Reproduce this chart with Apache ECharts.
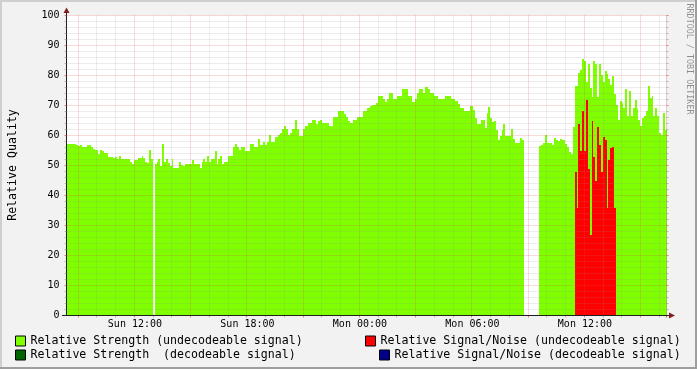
<!DOCTYPE html>
<html><head><meta charset="utf-8">
<script src="https://cdn.jsdelivr.net/npm/echarts@6/dist/echarts.min.js"></script>
<style>html,body{margin:0;padding:0;background:#f2f2f2}#c{width:697px;height:369px}</style>
</head><body><div id="c"></div>
<script>
// ---- data ----
const dayNames = ['Sun', 'Mon'];
const startMinute = 8 * 60 + 24;   // first slot: Sun 08:24
const slotMinutes = 6;
const tickLabels = ['Sun 12:00', 'Sun 18:00', 'Mon 00:00', 'Mon 06:00', 'Mon 12:00'];
const yTitle = 'Relative Quality';
const watermark = 'RRDTOOL / TOBI OETIKER';
const seriesNames = [
  'Relative Strength (undecodeable signal)',
  'Relative Strength  (decodeable signal)',
  'Relative Signal/Noise (undecodeable signal)',
  'Relative Signal/Noise (decodeable signal)'
];
const strengthUndecodeable = [
  57.3,57.3,57.3,57.3,57.3,57,56.5,57,56.3,56.3,
  56.3,57,57,56.3,55.5,55.3,55.3,54,55.3,55,
  54.2,54.2,53,52.8,52.8,52.4,53,52.2,53.3,52.2,
  52.2,52.2,52.2,52.2,51.3,50.4,52,52,52.4,52.4,
  53.3,52.4,51.3,51,55.3,52.2,null,50.4,51.3,52.2,
  49.8,57.3,51.3,52.2,51,49.8,52.2,49.3,49.3,49.3,
  51.3,50.2,50,50.4,50.4,50.4,50.4,52,50.4,50.4,
  50.4,49.3,51.3,52.2,51.3,53.3,51.3,52.2,52.2,55,
  50.4,52.2,53.3,50.4,51.3,51.3,53.3,53.3,53.3,56.2,
  57.3,56.2,55.3,56,56,55,55,55,57.3,57.3,
  56.2,56.2,59,57,57,58,57,58,60.2,58,
  58,59.4,59.4,60.3,61,62.2,63.3,62.2,60.2,61,
  62.2,62.2,65.3,62.2,60,59.7,62.2,63.3,63.3,64.2,
  64.2,65.3,65.3,64,65,65.3,64.2,64.2,64.2,64.2,
  63.3,63.3,66.2,66.2,66.2,68.3,68.3,68,67.3,66.2,
  65,64.2,64.2,65.3,65.3,66.2,66.2,66.2,68.3,68.3,
  69.3,69.3,70,70.2,70.2,71,73.3,73.3,73.3,72.2,
  71.3,72.2,74.2,74.2,72.2,72.2,73.3,73.3,73.3,75.4,
  75.4,75.4,73.3,73.3,71.3,71.3,72.2,74.2,75.4,75.4,
  74.2,76.2,76.2,75.4,74.2,74.2,73.3,73.3,72.2,72.2,
  72.2,72.2,73.3,73.3,73.3,72.2,72.2,71.4,71.4,70.5,
  69.2,69.2,68.3,68.3,68.3,70,69.8,68.5,66,63.7,
  64,65.3,65.3,62.6,67.6,69.5,66,64.4,64.8,62,
  58.6,59.7,62,64,59.7,60,60,62.2,58.9,57.5,
  57.5,57.5,59.2,58.6,null,null,null,null,null,null,
  null,null,56.4,57,57.5,60.3,57.5,57.5,57.5,57,
  59.2,58.6,58.1,58.8,58.6,58.5,57.3,56,54.5,54,
  63,76.5,76.5,80.9,82,85.5,85,78,83.8,76,
  73,85,84,73,84,80.3,78,81.5,80.5,79,
  77,79.8,74,70.3,65.3,71.4,71,69.2,75.4,66.4,
  74.8,66.5,69.2,72,68.7,65.3,63.1,65.8,66.4,68.1,
  76.5,72.5,73.1,66.4,69.2,66.4,61,60.3,67.6,62
];
const strengthDecodeable = [];
const snrUndecodeableStart = 271;   // slot index of first value below
const snrUndecodeable = [48,36,64,55,68,55,72,49,27,65,53,45,63,57,48,59.5,58.4,36,51.9,55.8,56,36];
const snrDecodeable = [];
const seriesColors = ['#7FFF00', '#006400', '#FF0000', '#000088'];

// ---- build ----
const pad = n => (n < 10 ? '0' : '') + n;
const categories = strengthUndecodeable.map((_, i) => {
  const m = startMinute + i * slotMinutes;
  return dayNames[Math.floor(m / 1440)] + ' ' + pad(Math.floor((m % 1440) / 60)) + ':' + pad(m % 60);
});
const hourOf = v => parseInt(v.slice(4, 6), 10);
const onHour = v => v.slice(7) === '00';
const isMajor = (i, v) => onHour(v) && hourOf(v) % 3 === 0;
const isMinor = (i, v) => onHour(v) && hourOf(v) % 3 !== 0;
const isLabel = (i, v) => tickLabels.indexOf(v) >= 0;

function barRender(color) {
  return function (params, api) {
    const v = api.value(1);
    if (v == null || isNaN(v)) return null;
    const base = api.coord([api.value(0), 0]);
    const top = api.coord([api.value(0), v]);
    const w = api.size([1, 0])[0];
    const x0 = Math.round(base[0] - w / 2), x1 = Math.round(base[0] + w / 2);
    const y0 = Math.round(top[1]), y1 = Math.round(base[1]);
    return { type: 'rect', shape: { x: x0, y: y0, width: x1 - x0, height: y1 - y0 }, style: { fill: color } };
  };
}
const seriesData = [
  strengthUndecodeable.map((v, i) => [i, v]),
  strengthDecodeable.map((v, i) => [i, v]),
  snrUndecodeable.map((v, k) => [snrUndecodeableStart + k, v]),
  snrDecodeable.map((v, i) => [i, v])
];

const FONT = "'DejaVu Sans Mono', monospace";
const minorCol = 'rgba(143,143,143,0.32)';
const majorCol = 'rgba(222,79,79,0.40)';
const minorTickCol = 'rgba(143,143,143,0.6)';
const majorTickCol = 'rgba(222,79,79,0.7)';
const legendPos = [[15, 334], [15, 348], [365, 334], [379, 348]];

const chart = echarts.init(document.getElementById('c'), null, { renderer: 'canvas' });
chart.setOption({
  animation: false,
  backgroundColor: '#F2F2F2',
  grid: { left: 66.5, top: 15.5, width: 600, height: 300, show: true, backgroundColor: '#FFFFFF', borderWidth: 0 },
  xAxis: [
    { type: 'category', position: 'bottom', data: categories, boundaryGap: true, zlevel: 1, z: 3,
      axisLine: { show: false }, axisLabel: { show: false },
      axisTick: { show: true, interval: isMinor, length: 2, lineStyle: { color: minorTickCol } },
      splitLine: { show: true, interval: isMinor, lineStyle: { color: minorCol, width: 1, type: [1, 1] } } },
    { type: 'category', position: 'bottom', data: categories, boundaryGap: true, zlevel: 1, z: 4,
      axisLine: { show: true, lineStyle: { color: '#1F1F1F', width: 1 } },
      axisTick: { show: true, interval: isMajor, length: 2, lineStyle: { color: majorTickCol } },
      axisLabel: { show: true, interval: isLabel, margin: 4, fontFamily: FONT, fontSize: 10, color: '#000' },
      splitLine: { show: true, interval: isMajor, lineStyle: { color: majorCol, width: 1, type: [1, 1] } } }
  ],
  yAxis: [
    { type: 'value', position: 'left', min: 0, max: 100, interval: 10, zlevel: 1, z: 4,
      axisLine: { show: true, lineStyle: { color: '#1F1F1F', width: 1 } },
      axisTick: { show: true, length: 2, lineStyle: { color: majorTickCol } },
      minorTick: { show: true, splitNumber: 5, length: 2, lineStyle: { color: minorTickCol } },
      axisLabel: { margin: 7, fontFamily: FONT, fontSize: 10, color: '#000' },
      splitLine: { show: true, lineStyle: { color: majorCol, width: 1, type: [1, 1] } },
      minorSplitLine: { show: true, lineStyle: { color: minorCol, width: 1, type: [1, 1] } } },
    { type: 'value', position: 'right', min: 0, max: 100, interval: 10, zlevel: 1, z: 3,
      axisLine: { show: false }, axisLabel: { show: false }, splitLine: { show: false },
      axisTick: { show: true, length: 2, lineStyle: { color: majorTickCol } },
      minorTick: { show: true, splitNumber: 5, length: 2, lineStyle: { color: minorTickCol } } }
  ],
  legend: seriesNames.map((name, k) => ({
    data: [name], left: legendPos[k][0], top: legendPos[k][1], padding: 0,
    itemWidth: 10, itemHeight: 10, icon: 'rect', selectedMode: false,
    itemStyle: { borderColor: '#000', borderWidth: 1 },
    textStyle: { fontFamily: FONT, fontSize: 11.6, color: '#000', lineHeight: 14 }
  })),
  series: seriesNames.map((name, k) => ({
    name: name, type: 'custom', xAxisIndex: 1, yAxisIndex: 0, z: 1,
    itemStyle: { color: seriesColors[k] },
    encode: { x: 0, y: 1 },
    data: seriesData[k],
    renderItem: barRender(seriesColors[k])
  })),
  graphic: [
    { type: 'rect', shape: { x: 0, y: 0, width: 697, height: 2 }, style: { fill: '#CFCFCF' }, z: 10 },
    { type: 'rect', shape: { x: 0, y: 0, width: 2, height: 369 }, style: { fill: '#CFCFCF' }, z: 10 },
    { type: 'rect', shape: { x: 0, y: 367, width: 697, height: 2 }, style: { fill: '#9E9E9E' }, z: 10 },
    { type: 'rect', shape: { x: 695, y: 0, width: 2, height: 369 }, style: { fill: '#9E9E9E' }, z: 10 },
    { type: 'line', shape: { x1: 66.5, y1: 15.5, x2: 66.5, y2: 12 }, style: { stroke: '#1F1F1F', lineWidth: 1 }, zlevel: 1, z: 10 },
    { type: 'line', shape: { x1: 62, y1: 315.5, x2: 670, y2: 315.5 }, style: { stroke: '#1F1F1F', lineWidth: 1 }, zlevel: 1, z: 10 },
    { type: 'polygon', shape: { points: [[63.5, 13], [69.5, 13], [66.5, 7.5]] }, style: { fill: '#801F1F' }, zlevel: 1, z: 10 },
    { type: 'polygon', shape: { points: [[669, 312.5], [669, 318.5], [675, 315.5]] }, style: { fill: '#801F1F' }, zlevel: 1, z: 10 },
    { type: 'text', x: 13, y: 165, rotation: Math.PI / 2,
      style: { text: yTitle, font: "11.6px 'DejaVu Sans Mono'", fill: '#000', align: 'center', verticalAlign: 'middle' }, z: 10 },
    { type: 'text', x: 689, y: 59, rotation: -Math.PI / 2,
      style: { text: watermark, font: "8.4px 'DejaVu Sans Mono'", fill: 'rgba(0,0,0,0.42)', align: 'center', verticalAlign: 'middle' }, z: 10 }
  ]
});
</script></body></html>
